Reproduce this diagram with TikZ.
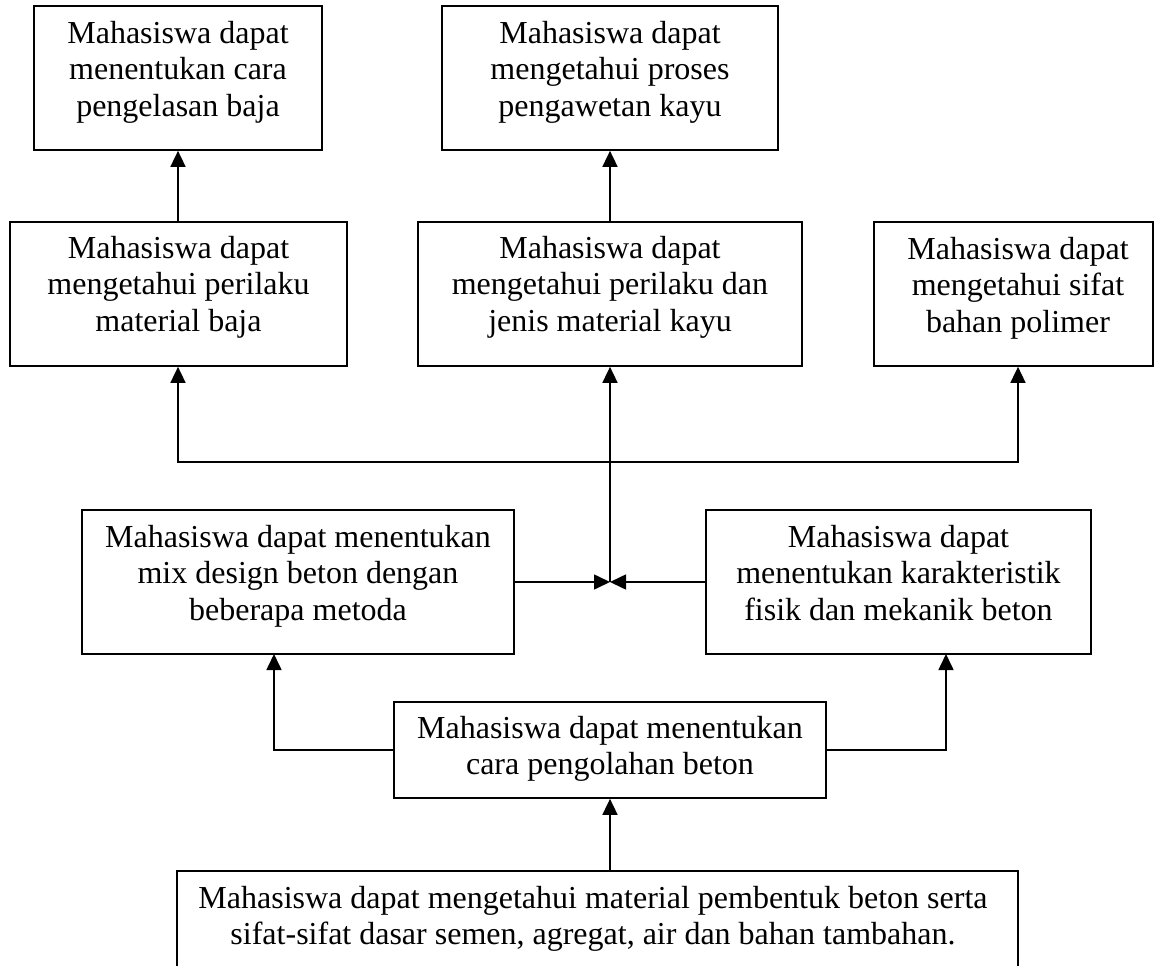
\documentclass[tikz,border=0pt]{standalone}
\usepackage{fontspec}
\setmainfont{Liberation Serif}
\usetikzlibrary{arrows.meta}
\begin{document}
\begin{tikzpicture}[x=1pt,y=-1pt,
  box/.style={draw, line width=1.7pt, rectangle, inner sep=0pt},
  txt/.style={align=center, inner sep=0pt, anchor=north, font=\fontsize{32}{36.5}\selectfont},
  ln/.style={line width=1.6pt, line join=miter},
  tip/.style={-{Triangle[length=16pt,width=15pt]}},
  arr/.style={ln, tip}]
\clip (0,0) rectangle (1154,966);
% boxes
\node[box, minimum width=288pt, minimum height=144pt] (b1) at (178,78) {};
\node[box, minimum width=336pt, minimum height=144pt] (b2) at (610,78) {};
\node[box, minimum width=337pt, minimum height=144pt] (b3) at (178.5,294) {};
\node[box, minimum width=384pt, minimum height=144pt] (b4) at (610,294) {};
\node[box, minimum width=279pt, minimum height=144pt] (b5) at (1013.5,294) {};
\node[box, minimum width=432pt, minimum height=144pt] (b6) at (298,582) {};
\node[box, minimum width=385pt, minimum height=144pt] (b7) at (898.5,582) {};
\node[box, minimum width=432pt, minimum height=96pt] (b8) at (610,750) {};
\node[box, minimum width=841pt, minimum height=150pt] (b9) at (597.5,946) {};
% texts
\node[txt] (t1) at (178,21) {Mahasiswa dapat\\menentukan cara\\pengelasan baja};
\node[txt] (t2) at (610,21) {Mahasiswa dapat\\mengetahui proses\\pengawetan kayu};
\node[txt] (t3) at (178.5,236) {Mahasiswa dapat\\mengetahui perilaku\\material baja};
\node[txt] (t4) at (610,236) {Mahasiswa dapat\\mengetahui perilaku dan\\jenis material kayu};
\node[txt] (t5) at (1018,237) {Mahasiswa dapat\\mengetahui sifat\\bahan polimer};
\node[txt] (t6) at (298,525) {Mahasiswa dapat menentukan\\mix design beton dengan\\beberapa metoda};
\node[txt] (t7) at (898.5,525) {Mahasiswa dapat\\menentukan karakteristik\\fisik dan mekanik beton};
\node[txt] (t8) at (610,716) {Mahasiswa dapat menentukan\\cara pengolahan beton};
\node[txt] (t9) at (593,886) {Mahasiswa dapat mengetahui material pembentuk beton serta\\sifat-sifat dasar semen, agregat, air dan bahan tambahan.};
% coordinates
\coordinate (J) at (610,582);
\coordinate (HL) at (178,462);
\coordinate (HR) at (1018,462);
\coordinate (L6) at (274,654);
\coordinate (R7) at (946,654);
% connectors
\draw[arr] (b1.south |- b3.north) -- (b1.south);
\draw[arr] (b4.north) -- (b2.south);
\draw[arr] (b6.east) -- (J);
\draw[arr] (b7.west) -- (J);
\draw[arr] (J) -- (b4.south);
\draw[ln, {Triangle[length=16pt,width=15pt]}-{Triangle[length=16pt,width=15pt]}]
  (HL |- b3.south) -- (HL) -- (HR) -- (HR |- b5.south);
\draw[arr] (b8.west) -| (L6);
\draw[arr] (b8.east) -| (R7);
\draw[arr] (b8.south |- b9.north) -- (b8.south);
\end{tikzpicture}
\end{document}
